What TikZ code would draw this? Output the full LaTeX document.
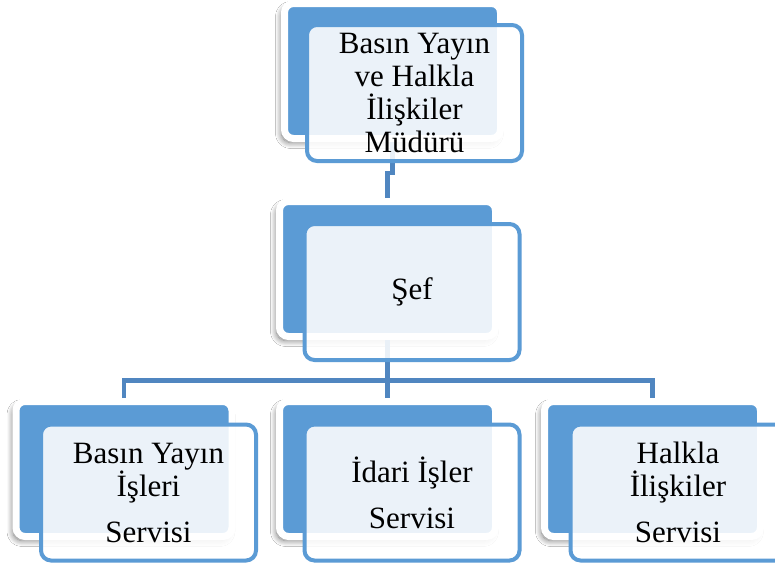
\documentclass[tikz,border=0pt]{standalone}
\usepackage{fontspec}
\setmainfont{Liberation Serif}
\usetikzlibrary{shadows.blur}
\definecolor{accent}{RGB}{91,155,213}
\definecolor{connc}{RGB}{80,134,192}
\begin{document}
\begin{tikzpicture}[x=1pt,y=-1pt,
  back/.style={draw=white, line width=7pt, fill=accent, rounded corners=9pt,
    minimum width=216pt, minimum height=135pt, inner sep=0pt,
    blur shadow={shadow xshift=-3pt, shadow yshift=-4pt, shadow opacity=55, shadow blur steps=10, shadow blur radius=6pt}},
  front/.style={draw=accent, line width=4pt, fill=white, fill opacity=0.88, text opacity=1,
    rounded corners=10pt, minimum width=215pt, minimum height=136pt, inner sep=0pt,
    align=center, font=\fontsize{31}{33}\selectfont},
  conn/.style={draw=connc, line width=4.5pt}]
\useasboundingbox (0,0) rectangle (775,565);
\fill[white] (0,0) rectangle (775,565);

% back boxes
\node[back] (tb) at (392.5,71) {};
\node[back] (mb) at (387.5,269) {};
\node[back] (lb) at (124,469) {};
\node[back] (cb) at (387.5,469) {};
\node[back] (rb) at (652.5,469) {};

% connectors
\coordinate (j1) at (392.5,173);
\coordinate (j2) at (387.5,173);
\coordinate (bus) at (387.5,380.5);
\draw[conn] (tb.south) -- (j1) -- (j2) -- (mb.north);
\draw[conn] (mb.south) -- (bus);
\draw[conn] (lb.north) |- (bus) -| (rb.north);
\draw[conn] (bus) -- (cb.north);

% front boxes
\node[front] (tf) at (414.5,93) {Basın Yayın\\ve Halkla\\İlişkiler\\Müdürü};
\node[front] (mf) at (412,292) {Şef};
\node[front] (lf) at (148.5,492.5) {Basın Yayın\\İşleri\\[13pt]Servisi};
\node[front] (cf) at (412,492.5) {İdari İşler\\[13pt]Servisi};
\node[front] (rf) at (678,492.5) {Halkla\\İlişkiler\\[13pt]Servisi};
\end{tikzpicture}
\end{document}
